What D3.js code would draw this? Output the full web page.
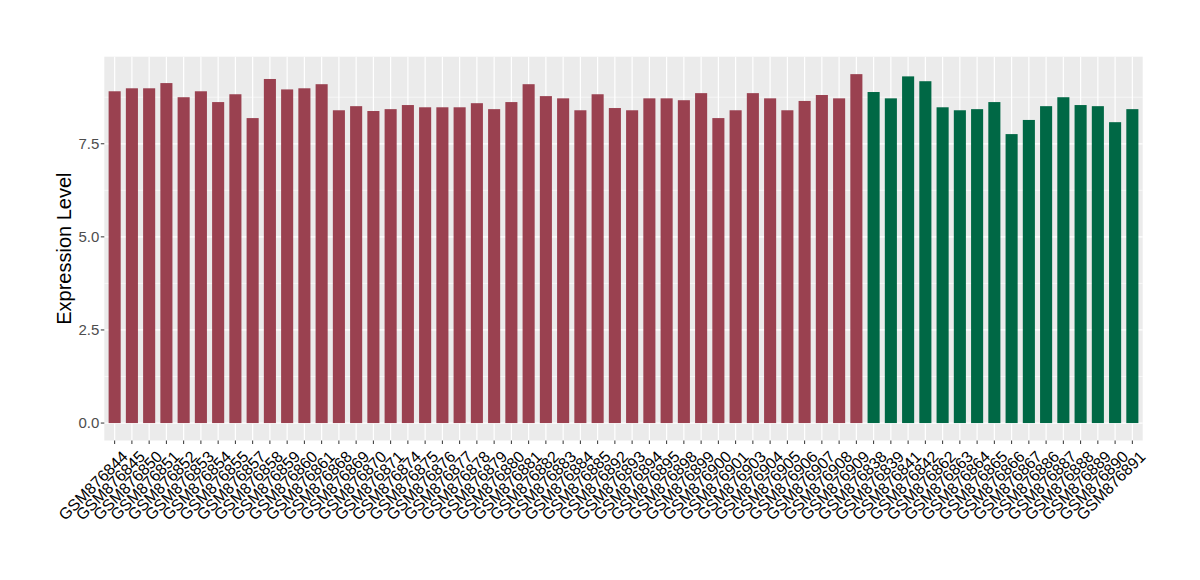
<!DOCTYPE html>
<html><head><meta charset="utf-8">
<script src="https://cdn.jsdelivr.net/npm/d3@7"></script>
<style>body{margin:0;background:#fff}svg{display:block}text{font-family:"Liberation Sans",Arial,sans-serif}</style>
</head><body><svg id="c" width="1200" height="580"></svg>
<script>
const samples = ["GSM876844","GSM876845","GSM876850","GSM876851","GSM876852","GSM876853","GSM876854","GSM876855","GSM876857","GSM876858",
"GSM876859","GSM876860","GSM876861","GSM876868","GSM876869","GSM876870","GSM876871","GSM876874","GSM876875","GSM876876",
"GSM876877","GSM876878","GSM876879","GSM876880","GSM876881","GSM876882","GSM876883","GSM876884","GSM876885","GSM876892",
"GSM876893","GSM876894","GSM876895","GSM876898","GSM876899","GSM876900","GSM876901","GSM876903","GSM876904","GSM876905",
"GSM876906","GSM876907","GSM876908","GSM876909",
"GSM876838","GSM876839","GSM876841","GSM876842","GSM876862","GSM876863","GSM876864","GSM876865","GSM876866","GSM876867",
"GSM876886","GSM876887","GSM876888","GSM876889","GSM876890","GSM876891"];
const values = [8.91,8.99,8.99,9.13,8.75,8.91,8.62,8.83,8.19,9.24,
8.96,8.99,9.10,8.40,8.51,8.38,8.43,8.54,8.48,8.48,
8.48,8.59,8.43,8.62,9.10,8.78,8.72,8.40,8.83,8.46,
8.40,8.72,8.72,8.67,8.86,8.19,8.40,8.86,8.72,8.40,
8.65,8.81,8.72,9.37,
8.89,8.72,9.31,9.18,8.48,8.40,8.43,8.62,7.76,8.14,
8.51,8.75,8.54,8.51,8.08,8.43];
const groups = samples.map((s,i)=> i<44 ? "A" : "B");
const groupColors = {A:"#9A4150", B:"#006845"};
const yTicks = [0, 2.5, 5, 7.5];
const yTitle = "Expression Level";

const svg = d3.select("#c");
const L=104.3, R=1142.7, T=56.7, B=440.5;
const n = samples.length;
const step = (R-L)/(n-1+1.2);
const x = d3.scaleOrdinal().domain(samples).range(samples.map((s,i)=>L+(0.6+i)*step));
const ymax = d3.max(values);
const y = d3.scaleLinear().domain([-0.05*ymax, 1.05*ymax]).range([B,T]);

svg.append("rect").attr("x",L).attr("y",T).attr("width",R-L).attr("height",B-T).attr("fill","#EBEBEB");
const minor = [1.25,3.75,6.25,8.75];
svg.selectAll(".ming").data(minor).enter().append("line")
 .attr("x1",L).attr("x2",R).attr("y1",d=>y(d)).attr("y2",d=>y(d)).attr("stroke","#fff").attr("stroke-width",0.6);
svg.selectAll(".majg").data(yTicks).enter().append("line")
 .attr("x1",L).attr("x2",R).attr("y1",d=>y(d)).attr("y2",d=>y(d)).attr("stroke","#fff").attr("stroke-width",1.2);
svg.selectAll(".vg").data(samples).enter().append("line")
 .attr("x1",d=>x(d)).attr("x2",d=>x(d)).attr("y1",T).attr("y2",B).attr("stroke","#fff").attr("stroke-width",1.2);

const bw = step*0.7;
svg.selectAll(".bar").data(samples).enter().append("rect")
 .attr("x",d=>x(d)-bw/2).attr("width",bw)
 .attr("y",(d,i)=>y(values[i])).attr("height",(d,i)=>y(0)-y(values[i]))
 .attr("fill",(d,i)=>groupColors[groups[i]]);

const yg = svg.append("g");
yTicks.forEach(t=>{
  yg.append("line").attr("x1",L-3.5).attr("x2",L).attr("y1",y(t)).attr("y2",y(t)).attr("stroke","#333").attr("stroke-width",1);
  yg.append("text").attr("x",L-5).attr("y",y(t)).attr("dy","0.36em").attr("text-anchor","end")
    .attr("font-size",15).attr("fill","#4D4D4D").text(d3.format(".1f")(t));
});
svg.append("text").attr("transform",`translate(71,${(T+B)/2}) rotate(-90)`).attr("text-anchor","middle")
  .attr("font-size",20).attr("fill","#000").text(yTitle);

const xg = svg.append("g");
samples.forEach(s=>{
  xg.append("line").attr("x1",x(s)).attr("x2",x(s)).attr("y1",B).attr("y2",B+3.5).attr("stroke","#333").attr("stroke-width",1);
  xg.append("text").attr("transform",`translate(${x(s)+6},${B+9}) rotate(-45)`).attr("text-anchor","end")
    .attr("dy","0.72em").attr("font-size",16).attr("fill","#000").text(s);
});
</script></body></html>
